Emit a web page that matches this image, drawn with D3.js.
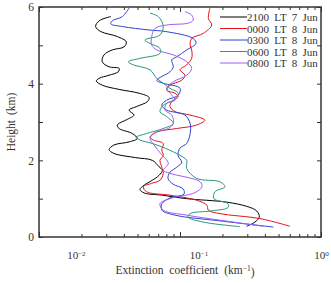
<!DOCTYPE html>
<html>
<head>
<meta charset="utf-8">
<script src="https://cdn.jsdelivr.net/npm/d3@7"></script>
<style>
	body { margin: 0; background: #fff; }
	text { font-family: "Liberation Serif", "DejaVu Serif", serif; fill: #333; }
</style>
</head>
<body>
<div id="chart"></div>
<script>
// [height km, extinction km^-1]
const jun7_2100 = [
	[5.75, 0.0323], [5.64, 0.0267], [5.49, 0.0252], [5.36, 0.0274], [5.23, 0.0359],
	[5.09, 0.0416], [4.96, 0.0401], [4.88, 0.0331], [4.75, 0.0289], [4.57, 0.0281],
	[4.44, 0.0314], [4.4, 0.037], [4.31, 0.0365], [4.22, 0.0314], [4.14, 0.0267],
	[4.07, 0.0255], [3.96, 0.0281], [3.85, 0.037], [3.75, 0.0513], [3.64, 0.0604],
	[3.53, 0.0586], [3.41, 0.0498], [3.31, 0.0435], [3.18, 0.0472], [3.07, 0.0423],
	[2.92, 0.0359], [2.83, 0.037], [2.7, 0.0459], [2.57, 0.0498], [2.48, 0.0435],
	[2.4, 0.034], [2.28, 0.0314], [2.18, 0.034], [2.07, 0.0485], [2.0, 0.0636],
	[1.83, 0.0711], [1.74, 0.0749], [1.61, 0.0711], [1.48, 0.0636], [1.35, 0.0556],
	[1.24, 0.052], [1.15, 0.0556], [1.09, 0.0749], [1.0, 0.1115], [0.91, 0.214],
	[0.8, 0.297], [0.68, 0.35], [0.52, 0.365], [0.39, 0.34], [0.28, 0.297],
]
const jun8_0000 = [
	[5.97, 0.163], [5.7, 0.159], [5.53, 0.168], [5.31, 0.146], [5.18, 0.121],
	[5.01, 0.118], [4.88, 0.121], [4.66, 0.121], [4.49, 0.1115], [4.36, 0.1],
	[4.22, 0.1085], [4.09, 0.1028], [3.96, 0.0849], [3.83, 0.0805], [3.75, 0.0922],
	[3.66, 0.0972], [3.53, 0.0874], [3.4, 0.0849], [3.27, 0.0922], [3.18, 0.118],
	[3.05, 0.15], [2.92, 0.131], [2.83, 0.0948], [2.74, 0.0684], [2.61, 0.0613],
	[2.53, 0.0647], [2.44, 0.0761], [2.27, 0.0742], [2.13, 0.0761], [2.0, 0.0721],
	[1.83, 0.0742], [1.66, 0.0761], [1.48, 0.0721], [1.4, 0.063], [1.31, 0.0549],
	[1.18, 0.058], [1.09, 0.0849], [0.96, 0.131], [0.83, 0.155], [0.7, 0.159],
	[0.61, 0.192], [0.48, 0.369], [0.28, 0.603],
]
const jun8_0300 = [
	[5.97, 0.0435], [5.75, 0.039], [5.64, 0.0331], [5.56, 0.0323], [5.49, 0.039],
	[5.4, 0.0604], [5.36, 0.0792], [5.18, 0.124], [5.05, 0.13], [4.88, 0.1115],
	[4.7, 0.0948], [4.62, 0.0874], [4.44, 0.0896], [4.31, 0.0849], [4.09, 0.0684],
	[4.01, 0.0761], [3.88, 0.1], [3.7, 0.0972], [3.57, 0.0805], [3.44, 0.0742],
	[3.31, 0.0805], [3.18, 0.1085], [2.96, 0.118], [2.7, 0.118], [2.44, 0.1115],
	[2.32, 0.1], [2.13, 0.0968], [1.95, 0.1028], [1.82, 0.0948], [1.69, 0.0849],
	[1.53, 0.0822], [1.38, 0.0892], [1.25, 0.1055], [1.12, 0.1067], [1.02, 0.0849],
	[0.87, 0.0745], [0.7, 0.0745], [0.57, 0.0922], [0.42, 0.192], [0.26, 0.459],
]
const jun8_0600 = [
	[5.84, 0.0613], [5.75, 0.0702], [5.49, 0.0761], [5.27, 0.0721], [5.14, 0.0565],
	[5.05, 0.0613], [4.92, 0.0721], [4.79, 0.0721], [4.66, 0.052], [4.57, 0.043],
	[4.49, 0.0467], [4.36, 0.0613], [4.14, 0.0684], [4.01, 0.0761], [3.88, 0.0849],
	[3.75, 0.0972], [3.57, 0.0896], [3.44, 0.0761], [3.27, 0.0721], [3.14, 0.0805],
	[2.96, 0.0896], [2.83, 0.0761], [2.7, 0.058], [2.6, 0.0487], [2.53, 0.052],
	[2.44, 0.0636], [2.31, 0.0792], [2.13, 0.1], [2.0, 0.1115], [1.79, 0.1115],
	[1.53, 0.131], [1.44, 0.192], [1.31, 0.2085], [1.18, 0.177], [1.0, 0.174],
	[0.87, 0.219], [0.77, 0.219], [0.68, 0.166], [0.61, 0.118], [0.52, 0.114],
	[0.39, 0.146], [0.27, 0.266],
]
const jun8_0800 = [
	[5.88, 0.1085], [5.79, 0.121], [5.66, 0.124], [5.58, 0.1145], [5.53, 0.0805],
	[5.44, 0.0665], [5.23, 0.063], [5.01, 0.063], [4.88, 0.0684], [4.75, 0.0896],
	[4.57, 0.1115], [4.4, 0.121], [4.22, 0.1115], [4.05, 0.0896], [3.88, 0.0805],
	[3.7, 0.0874], [3.57, 0.0922], [3.49, 0.0805], [3.31, 0.0783], [3.18, 0.0874],
	[2.96, 0.0896], [2.83, 0.0826], [2.74, 0.0684], [2.58, 0.0613], [2.4, 0.0654],
	[2.18, 0.073], [1.92, 0.0826], [1.74, 0.0761], [1.66, 0.0849], [1.44, 0.139],
	[1.31, 0.143], [1.16, 0.128], [1.0, 0.0849], [0.87, 0.0721], [0.7, 0.0761],
	[0.57, 0.1115], [0.39, 0.239], [0.28, 0.39],
]

const seriesNames = ["2100 LT 7 Jun", "0000 LT 8 Jun", "0300 LT 8 Jun", "0600 LT 8 Jun", "0800 LT 8 Jun"]
const seriesData = [jun7_2100, jun8_0000, jun8_0300, jun8_0600, jun8_0800]
const seriesColors = ["#000000", "#e3121b", "#2b43d6", "#2a9878", "#a05ef0"]
const heightTicks = [0, 2, 4, 6]
const decadeTicks = [0.01, 0.1, 1]

const width = 331
const height = 283
const margin = { top: 7, right: 10, bottom: 46, left: 39 }

const svg = d3
	.select("#chart")
	.append("svg")
	.attr("width", width)
	.attr("height", height)

const x = d3
	.scaleLog()
	.domain([0.01, 1])
	.range([margin.left, width - margin.right])

// the tick labels of the original sit on a shifted decade grid
const xLabel = d3
	.scaleLog()
	.domain([0.005, 1])
	.range([margin.left, width - margin.right])

const y = d3
	.scaleLinear()
	.domain([0, 6])
	.range([height - margin.bottom, margin.top])

const minorX = []
for (let e = -2; e < 0; e++) {
	for (let k = 2; k <= 9; k++) minorX.push(k * Math.pow(10, e))
}

// frame ticks, all pointing inward
const axisStyle = (g) => {
	g.select(".domain").remove()
	g.selectAll("line").attr("stroke", "#333").attr("stroke-width", 1)
}

svg.append("g")
	.attr("transform", `translate(0,${y(0)})`)
	.call(d3.axisTop(x).tickValues(minorX).tickSize(3).tickFormat(""))
	.call(axisStyle)
svg.append("g")
	.attr("transform", `translate(0,${y(0)})`)
	.call(d3.axisTop(x).tickValues(decadeTicks).tickSize(5).tickFormat(""))
	.call(axisStyle)
svg.append("g")
	.attr("transform", `translate(0,${y(6)})`)
	.call(d3.axisBottom(x).tickValues(minorX).tickSize(3).tickFormat(""))
	.call(axisStyle)
svg.append("g")
	.attr("transform", `translate(0,${y(6)})`)
	.call(d3.axisBottom(x).tickValues(decadeTicks).tickSize(5).tickFormat(""))
	.call(axisStyle)

svg.append("g")
	.attr("transform", `translate(${x(0.01)},0)`)
	.call(d3.axisRight(y).ticks(6).tickSize(4).tickFormat(""))
	.call(axisStyle)
svg.append("g")
	.attr("transform", `translate(${x(1)},0)`)
	.call(d3.axisLeft(y).ticks(6).tickSize(4).tickFormat(""))
	.call(axisStyle)

// y tick labels
svg.append("g")
	.attr("transform", `translate(${x(0.01)},0)`)
	.call(d3.axisLeft(y).tickValues(heightTicks).tickSize(0).tickPadding(5).tickFormat(d3.format("d")))
	.call((g) => {
		g.select(".domain").remove()
		g.selectAll("text")
			.attr("font-family", null)
			.style("font-size", "11.5px")
			.attr("fill", "#333")
	})

// x tick labels as 10^n
const xLab = svg.append("g")
	.attr("transform", `translate(0,${y(0)})`)
	.call(d3.axisBottom(xLabel).tickValues(decadeTicks).tickSize(0).tickPadding(14).tickFormat(""))
xLab.select(".domain").remove()
xLab.selectAll(".tick text").each(function (d) {
	const t = d3.select(this).attr("font-family", null).attr("fill", "#333").style("font-size", "11px")
	t.append("tspan").text("10")
	t.append("tspan")
		.attr("dy", "-0.45em")
		.style("font-size", "7px")
		.text(Math.round(Math.log10(d)) === 0 ? "0" : "\u2212" + -Math.round(Math.log10(d)))
})

// frame
svg.append("rect")
	.attr("x", x(0.01))
	.attr("y", y(6))
	.attr("width", x(1) - x(0.01))
	.attr("height", y(0) - y(6))
	.attr("fill", "none")
	.attr("stroke", "#333")
	.attr("stroke-width", 1.5)

// profiles
const line = d3
	.line()
	.x((d) => x(d[1]))
	.y((d) => y(d[0]))
	.curve(d3.curveCatmullRom)

seriesData.forEach((data, i) => {
	svg.append("path")
		.datum(data)
		.attr("fill", "none")
		.attr("stroke", seriesColors[i])
		.attr("stroke-width", 1)
		.attr("d", line)
})

// legend
const legend = svg.append("g").attr("transform", "translate(220,17)")
seriesNames.forEach((name, i) => {
	const row = legend.append("g").attr("transform", `translate(0,${i * 11.5})`)
	row.append("line")
		.attr("x1", 0)
		.attr("x2", 27)
		.attr("stroke", seriesColors[i])
		.attr("stroke-width", 1)
	row.append("text")
		.attr("x", 27)
		.attr("y", 4)
		.style("font-size", "11px")
		.style("word-spacing", "2.5px")
		.text(name)
})

// axis titles
svg.append("text")
	.attr("transform", `translate(15,${(y(0) + y(6)) / 2}) rotate(-90)`)
	.attr("text-anchor", "middle")
	.style("font-size", "11.5px")
	.style("word-spacing", "2px")
	.text("Height (km)")

const xt = svg.append("text")
	.attr("x", 185)
	.attr("y", 274)
	.attr("text-anchor", "middle")
	.style("font-size", "11.5px")
	.style("word-spacing", "3px")
xt.append("tspan").text("Extinction coefficient (km")
xt.append("tspan").attr("dy", "-0.45em").style("font-size", "7.5px").text("\u22121")
xt.append("tspan").attr("dy", "0.45em").text(")")
</script>
</body>
</html>
